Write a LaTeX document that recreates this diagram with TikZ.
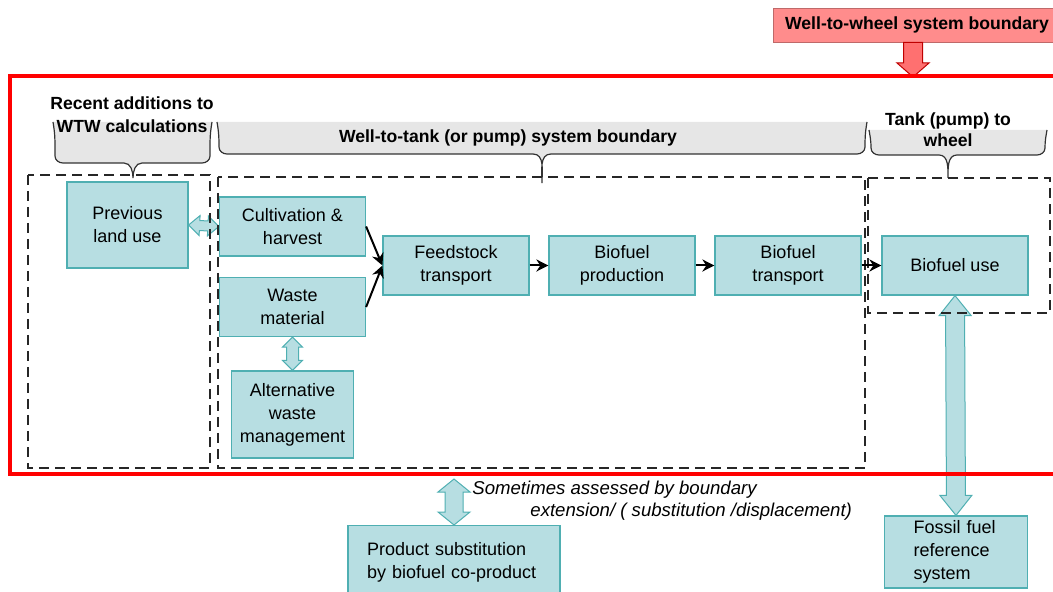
\documentclass[tikz,border=0pt]{standalone}
\usepackage{fontspec}
\setmainfont{Liberation Sans}
\usepackage{tikz}
\usetikzlibrary{positioning,calc,arrows.meta}
\definecolor{BoxTeal}{HTML}{B7DEE2}
\definecolor{BoxEdge}{HTML}{4FAFB2}
\definecolor{BraceGray}{HTML}{E6E6E6}
\definecolor{FrameRed}{HTML}{FF0000}
\definecolor{LabelPink}{HTML}{FF8C8C}
\definecolor{ArrowPink}{HTML}{FF7070}

% gray curly bracket: left, right, top, bottom, tip x, tip y
\newcommand{\gbrace}[6]{%
  \fill[BraceGray] (#1-2,#3) to[out=-80,in=90] (#1,#4-7) to[out=-90,in=180] (#1+8,#4) -- (#5-9,#4) to[out=0,in=90] (#5,#6)
    to[out=90,in=180] (#5+9,#4) -- (#2-8,#4) to[out=0,in=-90] (#2,#4-7) to[out=90,in=-100] (#2+2,#3) -- cycle;
  \draw[bracedraw] (#1-2,#3) to[out=-80,in=90] (#1,#4-7) to[out=-90,in=180] (#1+8,#4) -- (#5-9,#4) to[out=0,in=90] (#5,#6)
    to[out=90,in=180] (#5+9,#4) -- (#2-8,#4) to[out=0,in=-90] (#2,#4-7) to[out=90,in=-100] (#2+2,#3);}

% block arrow with two heads: from, to, head length, head half width, shaft half width
\newcommand{\fatdbl}[6][fatteal]{%
  \coordinate (fa-p) at ($(#2)!#4!(#3)$);
  \coordinate (fa-q) at ($(#3)!#4!(#2)$);
  \filldraw[#1] (#2) -- ($(fa-p)!#5!90:(#3)$) -- ($(fa-p)!#6!90:(#3)$)
    -- ($(fa-q)!#6!-90:(#2)$) -- ($(fa-q)!#5!-90:(#2)$) -- (#3)
    -- ($(fa-q)!#5!90:(#2)$) -- ($(fa-q)!#6!90:(#2)$)
    -- ($(fa-p)!#6!-90:(#3)$) -- ($(fa-p)!#5!-90:(#3)$) -- cycle;}

% block arrow with one head
\newcommand{\fatone}[6][fatred]{%
  \coordinate (fa-q) at ($(#3)!#4!(#2)$);
  \filldraw[#1] ($(#2)!#6!90:(#3)$) -- ($(fa-q)!#6!-90:(#2)$) -- ($(fa-q)!#5!-90:(#2)$) -- (#3)
    -- ($(fa-q)!#5!90:(#2)$) -- ($(fa-q)!#6!90:(#2)$) -- ($(#2)!#6!-90:(#3)$) -- cycle;}

\begin{document}
\begin{tikzpicture}[x=0.5pt, y=-0.5pt,
    proc/.style={draw=BoxEdge, fill=BoxTeal, line width=0.6pt, align=center, inner sep=2pt,
      font=\fontsize{9}{11.5}\selectfont},
    procsize/.style={minimum width=73pt, minimum height=29.5pt},
    headtext/.style={align=center, inner sep=0pt, font=\bfseries\fontsize{8.8}{11.5}\selectfont},
    notetext/.style={inner sep=0pt, font=\itshape\fontsize{9.3}{11}\selectfont},
    pinklabel/.style={fill=LabelPink, draw=LabelPink!75!black, line width=0.4pt, inner sep=0pt,
      font=\bfseries\fontsize{8.8}{11}\selectfont},
    bracedraw/.style={draw=black!80, line width=0.6pt},
    dashbox/.style={draw=black!85, line width=0.8pt, dash pattern=on 5pt off 3pt},
    fatteal/.style={fill=BoxTeal, draw=BoxEdge, line width=0.5pt},
    fatred/.style={fill=ArrowPink, draw=red!75!black, line width=0.5pt},
    flow/.style={-{Stealth[length=6pt,width=6pt]}, line width=1pt}]
  \useasboundingbox (0,0) rectangle (1053,592);
  \clip (0,0) rectangle (1053,592);

  \gbrace{55}{210}{122}{163}{133}{178}
  \gbrace{219}{865}{122}{154}{542}{183}
  \gbrace{871}{1045}{130}{155}{948}{178}

  \node (wtw) [pinklabel, minimum width=144pt, minimum height=17pt] at (917,25) {Well-to-wheel system boundary};
  \node (recent) [headtext] at (132,115) {Recent additions to\\WTW calculations};
  \node (wtt) [headtext] at (508,138) {Well-to-tank (or pump) system boundary};
  \node (ttw) [headtext, font=\bfseries\fontsize{8.8}{10.5}\selectfont] at (948,130) {Tank (pump) to\\wheel};

  \node (prev) [proc, minimum width=60.5pt, minimum height=43pt] at (127.5,225) {Previous\\land use};
  \node (cult) [proc, procsize] at (292.5,226.5) {Cultivation \&\\harvest};
  \node (waste) [proc, procsize] at (292.5,307) {Waste\\material};
  \node (alt) [proc, minimum width=61pt, minimum height=43.5pt] at (292.5,414.5) {Alternative\\waste\\management};
  \node (feed) [proc, procsize] at (456,265.5) {Feedstock\\transport};
  \node (prod) [proc, procsize, right of=feed, node distance=83pt] {Biofuel\\production};
  \node (trans) [proc, procsize, right of=prod, node distance=83pt] {Biofuel\\transport};
  \node (use) [proc, procsize, right of=trans, node distance=83.5pt] {Biofuel use};
  \node (fossil) [proc, align=left, text width=42.5pt, inner xsep=14.5pt, minimum height=36pt] at (956,552) {Fossil fuel\\reference\\system};
  \node (subst) [proc, anchor=north, align=left, text width=87pt, inner xsep=9.5pt, minimum height=37pt] at (454,525) {Product substitution\\by biofuel co-product};

  \node (note1) [notetext, anchor=west] at (472,490) {Sometimes assessed by boundary};
  \node (note2) [notetext, anchor=west] at (530,512) {extension/ ( substitution /displacement)};

  \coordinate (wtwtip) at (913,77);
  \coordinate (wtwfoot) at (wtw.south -| wtwtip);
  \coordinate (sometop) at (454,479);

  \fatone{wtwfoot}{wtwtip}{7pt}{8pt}{4.75pt}
  \fatdbl{prev.east}{cult.west}{5.5pt}{5pt}{2.5pt}
  \fatdbl{waste.south}{alt.north}{5pt}{5pt}{3pt}
  \fatdbl{use.south}{fossil.north}{10pt}{8pt}{4.75pt}
  \fatdbl{sometop}{subst.north}{6.5pt}{8pt}{4.5pt}

  \draw[dashbox] (28,175) rectangle (210,468);
  \draw[dashbox] (218,177) rectangle (865,468);
  \draw[dashbox] (868,178) rectangle (1050,313);
  \draw[FrameRed, line width=2pt] (1060,76) -- (10,76) -- (10,474) -- (1060,474);

  \draw [flow] (cult.east) -- (feed.west);
  \draw [flow] (waste.east) -- (feed.west);
  \draw [flow] (feed) -- (prod);
  \draw [flow] (prod) -- (trans);
  \draw [flow] (trans) -- (use);
\end{tikzpicture}
\end{document}
